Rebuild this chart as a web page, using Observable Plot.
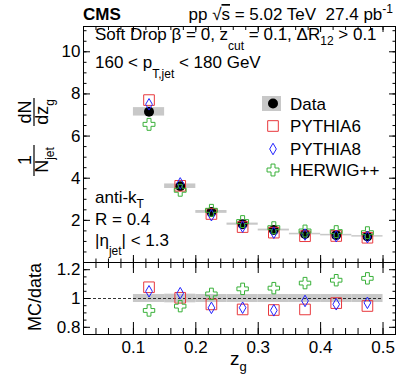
<!DOCTYPE html>
<html><head><meta charset="utf-8">
<script src="https://cdn.jsdelivr.net/npm/d3@7"></script>
<script src="https://cdn.jsdelivr.net/npm/@observablehq/plot@0.6"></script>
<style>
body{margin:0;background:#fff}
#wrap{position:relative;width:415px;height:374px;font-family:"Liberation Sans",Arial,Helvetica,sans-serif;overflow:hidden}
#wrap svg{position:absolute;left:0}
text{white-space:pre}
</style></head><body><div id="wrap"></div>
<script>
// ---- data ----
const binLo = [0.10, 0.15, 0.20, 0.25, 0.30, 0.35, 0.40, 0.45];
const binHi = [0.15, 0.20, 0.25, 0.30, 0.35, 0.40, 0.45, 0.50];
const dataY = [7.15, 3.62, 2.40, 1.82, 1.54, 1.35, 1.30, 1.24];
const sysRel = [0.028, 0.030, 0.028, 0.028, 0.028, 0.028, 0.028, 0.028];
const ratioP6 = [1.078, 1.005, 0.959, 0.924, 0.920, 0.924, 0.968, 0.948];
const ratioP8 = [1.050, 1.037, 0.935, 0.936, 0.918, 0.983, 0.960, 0.970];
const ratioHW = [0.917, 0.947, 1.032, 1.067, 1.072, 1.107, 1.127, 1.140];
const xMajor = [0.1, 0.2, 0.3, 0.4, 0.5];
const yMajorUpper = [2, 4, 6, 8, 10];
const yMajorLower = [0.8, 1, 1.2];
const seriesNames = ["Data", "PYTHIA6", "PYTHIA8", "HERWIG++"];

const bins = binLo.map((lo, i) => ({
  lo, hi: binHi[i], x: (lo + binHi[i]) / 2, y: dataY[i], sys: sysRel[i],
  p6: ratioP6[i], p8: ratioP8[i], hw: ratioHW[i]
}));

const font = '"Liberation Sans", Arial, Helvetica, sans-serif';
const cRed = "#e8383d", cBlue = "#2222ff", cGreen = "#38b038", cGray = "#c8c8c8";
const xDomain = [0.02, 0.52];
function steps(lo, hi, s) { const o = []; for (let v = lo; v <= hi + 1e-9; v += s) o.push(+v.toFixed(4)); return o; }
const blank = () => "";

function yTicks(vals, size) {
  return [
    Plot.axisY(vals, {anchor: "left", tickSize: size, dx: size, tickFormat: blank, label: null}),
    Plot.axisY(vals, {anchor: "right", tickSize: size, dx: -size, tickFormat: blank, label: null})
  ];
}

const wrap = document.getElementById("wrap");

// ---- upper panel ----
const upper = Plot.plot({
  width: 415, height: 262, marginTop: 26, marginBottom: 0, marginLeft: 83, marginRight: 20,
  x: {domain: xDomain}, y: {domain: [0, 11.2]},
  style: {fontFamily: font, fontSize: "17px", color: "black", overflow: "visible"},
  marks: [
    Plot.rect(bins, {x1: "lo", x2: "hi", y1: d => d.y * (1 - d.sys), y2: d => d.y * (1 + d.sys), fill: cGray}),
    Plot.dot(bins, {x: "x", y: "y", r: 5, fill: "black"}),
    Plot.dot(bins, {x: "x", y: d => d.y * d.p6, symbol: "square", r: 6, fill: "none", stroke: cRed, strokeWidth: 1}),
    Plot.dot(bins, {x: "x", y: d => d.y * d.p8, symbol: "diamond", r: 3.5, fill: "none", stroke: cBlue, strokeWidth: 1}),
    Plot.dot(bins, {x: "x", y: d => d.y * d.hw, symbol: "cross", r: 5, fill: "none", stroke: cGreen, strokeWidth: 1}),
    ...yTicks(yMajorUpper, 7),
    ...yTicks(steps(0.5, 11, 0.5), 3.5),
    Plot.axisX(xMajor, {anchor: "top", tickSize: 5, dy: 5, tickFormat: blank, label: null}),
    Plot.axisX(steps(0.02, 0.52, 0.02), {anchor: "top", tickSize: 3, dy: 3, tickFormat: blank, label: null}),
    Plot.axisX(xMajor, {anchor: "bottom", tickSize: 7, dy: -7, tickFormat: blank, label: null}),
    Plot.axisX(steps(0.02, 0.52, 0.02), {anchor: "bottom", tickSize: 3.5, dy: -3.5, tickFormat: blank, label: null}),
    Plot.axisY(yMajorUpper, {anchor: "left", tickSize: 0, tickPadding: 3, label: null, fontSize: 17}),
    Plot.frame({stroke: "black"})
  ]
});
upper.style.top = "0px";
wrap.appendChild(upper);

// ---- ratio panel ----
const lower = Plot.plot({
  width: 415, height: 112, marginTop: 0, marginBottom: 40, marginLeft: 83, marginRight: 20,
  x: {domain: xDomain}, y: {domain: [0.75, 1.25]},
  style: {fontFamily: font, fontSize: "17px", color: "black", overflow: "visible"},
  marks: [
    Plot.rect(bins, {x1: "lo", x2: "hi", y1: d => 1 - d.sys, y2: d => 1 + d.sys, fill: cGray}),
    Plot.ruleY([1], {x1: xDomain[0], x2: 0.5, stroke: "black", strokeWidth: 0.8, strokeDasharray: "3,2"}),
    Plot.dot(bins, {x: "x", y: "p6", symbol: "square", r: 6, fill: "none", stroke: cRed, strokeWidth: 1}),
    Plot.dot(bins, {x: "x", y: "p8", symbol: "diamond", r: 3.5, fill: "none", stroke: cBlue, strokeWidth: 1}),
    Plot.dot(bins, {x: "x", y: "hw", symbol: "cross", r: 4.8, fill: "none", stroke: cGreen, strokeWidth: 1}),
    ...yTicks(yMajorLower, 7),
    ...yTicks(steps(0.75, 1.25, 0.05), 3.5),
    Plot.axisX(xMajor, {anchor: "top", tickSize: 10, dy: 10, tickFormat: blank, label: null}),
    Plot.axisX(steps(0.02, 0.52, 0.02), {anchor: "top", tickSize: 5, dy: 5, tickFormat: blank, label: null}),
    Plot.axisX(xMajor, {anchor: "bottom", tickSize: 12, dy: -12, tickFormat: blank, label: null}),
    Plot.axisX(steps(0.02, 0.52, 0.02), {anchor: "bottom", tickSize: 6, dy: -6, tickFormat: blank, label: null}),
    Plot.axisY(yMajorLower, {anchor: "left", tickSize: 0, tickPadding: 3, label: null, fontSize: 17, tickFormat: d => String(d)}),
    Plot.axisX(xMajor, {anchor: "bottom", tickSize: 0, tickPadding: 6, label: null, fontSize: 17, tickFormat: d => d.toFixed(1)}),
    Plot.frame({stroke: "black"})
  ]
});
lower.style.top = "262px";
wrap.appendChild(lower);

// ---- annotations overlay ----
const ov = d3.select(wrap).append("svg")
  .attr("width", 415).attr("height", 374)
  .style("top", "0px").style("pointer-events", "none")
  .attr("font-family", font);

function rich(x, y, parts, {size = 17, anchor = "start", weight = "normal", rotate = false} = {}) {
  const t = ov.append("text").attr("font-size", size).attr("text-anchor", anchor).attr("font-weight", weight).attr("fill", "black");
  if (rotate) t.attr("transform", `translate(${x},${y}) rotate(-90)`);
  else t.attr("x", x).attr("y", y);
  let cur = 0;
  for (const p of parts) {
    const s = typeof p === "string" ? {t: p} : p;
    const sh = s.shift || 0;
    const ts = t.append("tspan").text(s.t).attr("dy", sh - cur);
    if (s.size) ts.attr("font-size", s.size);
    if (s.over) ts.style("text-decoration", "overline");
    cur = sh;
  }
  return t;
}

rich(83, 20, ["CMS"], {weight: "bold"});
rich(393, 20, ["pp \u221A", {t: "s", over: true}, " = 5.02 TeV  27.4 pb", {t: "-1", shift: -7, size: 12}], {anchor: "end"});
rich(95, 40, ["Soft Drop \u03B2 = 0, z", {t: "cut", shift: 10, size: 12}, " = 0.1, \u0394R", {t: "12", shift: 5, size: 12}, " > 0.1"]);
rich(95, 68, ["160 < p", {t: "T,jet", shift: 10, size: 12}, " < 180 GeV"]);
rich(95, 203, ["anti-k", {t: "T", shift: 5, size: 12}]);
rich(95, 225, ["R = 0.4"]);
rich(95, 246, ["|\u03B7", {t: "jet", shift: 9, size: 12}, "| < 1.3"]);

// legend
const legX = 273, legY = [103.5, 126, 149, 170];
ov.append("rect").attr("x", 262).attr("y", 96).attr("width", 19).attr("height", 15).attr("fill", cGray);
ov.append("circle").attr("cx", legX).attr("cy", legY[0]).attr("r", 5).attr("fill", "black");
const sym = (type, r) => d3.symbol(type, Math.PI * r * r)();
ov.append("path").attr("d", sym(d3.symbolSquare, 6)).attr("transform", `translate(${legX},${legY[1]})`).attr("fill", "none").attr("stroke", cRed);
ov.append("path").attr("d", sym(d3.symbolDiamond, 3.5)).attr("transform", `translate(${legX},${legY[2]})`).attr("fill", "none").attr("stroke", cBlue);
ov.append("path").attr("d", sym(d3.symbolCross, 5)).attr("transform", `translate(${legX},${legY[3]})`).attr("fill", "none").attr("stroke", cGreen);
seriesNames.forEach((n, i) => rich(290, legY[i] + 6, [n]));

// axis titles
rich(31, 112, ["dN"], {anchor: "middle", rotate: true, size: 18});
rich(48, 112, ["dz", {t: "g", shift: 6, size: 12}], {anchor: "middle", rotate: true, size: 18});
ov.append("line").attr("x1", 34).attr("x2", 34).attr("y1", 98).attr("y2", 126).attr("stroke", "black").attr("stroke-width", 1.2);
rich(31, 160, ["1"], {anchor: "middle", rotate: true, size: 18});
rich(48, 160, ["N", {t: "jet", shift: 6, size: 12}], {anchor: "middle", rotate: true, size: 18});
ov.append("line").attr("x1", 34).attr("x2", 34).attr("y1", 145).attr("y2", 176).attr("stroke", "black").attr("stroke-width", 1.2);
rich(41, 297, ["MC/data"], {anchor: "middle", rotate: true, size: 18});
rich(230, 365, ["z", {t: "g", shift: 6, size: 13}], {size: 19});
</script></body></html>
